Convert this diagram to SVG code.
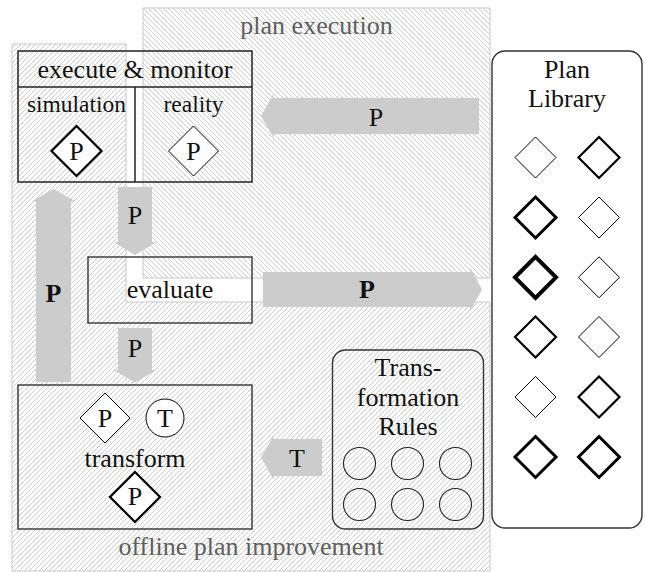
<svg xmlns="http://www.w3.org/2000/svg" width="646" height="572" viewBox="0 0 646 572" font-family="'Liberation Serif', 'Times New Roman', 'DejaVu Serif', serif">
<defs>
<pattern id="hatchNE" patternUnits="userSpaceOnUse" width="5" height="5">
<path d="M-1,1 L1,-1 M0,5 L5,0 M4,6 L6,4" stroke="#c4c4c4" stroke-width="0.8" fill="none"/>
</pattern>
<pattern id="hatchNW" patternUnits="userSpaceOnUse" width="5" height="5">
<path d="M-1,4 L1,6 M0,0 L5,5 M4,-1 L6,1" stroke="#c4c4c4" stroke-width="0.8" fill="none"/>
</pattern>
<style>
text{font-family:'Liberation Serif','Times New Roman','DejaVu Serif',serif}
.t{font-size:26px;fill:#111;text-anchor:middle}
.sm{font-size:23.5px}
.b{font-weight:bold}
.lbl{fill:#5e5e5e}
.box{fill:none;stroke:#222;stroke-width:1.5}
.rbox{fill:none;stroke:#333;stroke-width:1.4}
.arrow{fill:#cccccc;stroke:none}
.edge{stroke:#c8c8c8;stroke-width:1}
.dm{fill:#fff;stroke:#000}
.w1{stroke-width:1}
.w2{stroke-width:2.2}
.w3{stroke-width:3}
.w4{stroke-width:4}
.rule{fill:none;stroke:#222;stroke-width:1.1}
</style>
</defs>

<g id="region-plan-execution">
<polygon points="143,8 490,8 490,278 143,278" fill="url(#hatchNW)" class="edge"/>
<text class="t lbl" x="316.5" y="34">plan execution</text>
</g>
<g id="region-offline">
<polygon points="12,44 126,44 126,302 490,302 490,571 12,571" fill="url(#hatchNE)" class="edge"/>
<text class="t lbl" x="251" y="555">offline plan improvement</text>
</g>

<g id="execute-monitor">
<rect class="box" x="18" y="51" width="234" height="131"/>
<line class="box" x1="18" y1="87" x2="252" y2="87"/>
<line class="box" x1="135" y1="87" x2="135" y2="182"/>
<text class="t" x="135" y="78">execute &amp; monitor</text>
<text class="t sm" x="76.5" y="112">simulation</text>
<text class="t sm" x="193.5" y="112">reality</text>
<polygon class="dm w2" points="76.5,126 101.5,151 76.5,176 51.5,151"/>
<text class="t" x="76.5" y="160">P</text>
<polygon class="dm w1" points="193.5,126 218.5,151 193.5,176 168.5,151"/>
<text class="t" x="193.5" y="160">P</text>
</g>

<g id="evaluate">
<rect class="box" x="88" y="257" width="164" height="66" style="stroke:#333;stroke-width:1.4"/>
<text class="t" x="170" y="298">evaluate</text>
</g>

<g id="transform">
<rect class="box" x="18" y="385" width="234" height="144" style="stroke:#333;stroke-width:1.4"/>
<polygon class="dm w1" points="105,393 130,418 105,443 80,418"/>
<text class="t" x="105" y="427">P</text>
<circle cx="165" cy="418" r="19" fill="#fff" stroke="#000" stroke-width="1"/>
<text class="t" x="165" y="427">T</text>
<text class="t" x="135" y="467">transform</text>
<polygon class="dm w2" points="135,472 160,497 135,522 110,497"/>
<text class="t" x="135" y="505">P</text>
</g>

<g id="transformation-rules">
<rect class="rbox" x="332.5" y="350" width="151" height="179" rx="13" ry="13"/>
<text class="t" x="408" y="376">Trans-</text>
<text class="t" x="408" y="406">formation</text>
<text class="t" x="408" y="435">Rules</text>
<circle class="rule" cx="359.5" cy="463.5" r="16"/>
<circle class="rule" cx="407.5" cy="463.5" r="16"/>
<circle class="rule" cx="455.5" cy="463.5" r="16"/>
<circle class="rule" cx="359.5" cy="504.5" r="16"/>
<circle class="rule" cx="407.5" cy="504.5" r="16"/>
<circle class="rule" cx="455.5" cy="504.5" r="16"/>
</g>

<g id="plan-library">
<rect x="492" y="51" width="150" height="477" rx="13" ry="13" fill="#fff" stroke="#333" stroke-width="1.4"/>
<text class="t" x="567" y="78">Plan</text>
<text class="t" x="567" y="107">Library</text>
<polygon class="dm w1" points="535.5,137 556,157.5 535.5,178 515,157.5"/>
<polygon class="dm w2" points="599,137 619.5,157.5 599,178 578.5,157.5"/>
<polygon class="dm w3" points="535.5,197 556,217.5 535.5,238 515,217.5"/>
<polygon class="dm w1" points="599,197 619.5,217.5 599,238 578.5,217.5"/>
<polygon class="dm w4" points="535.5,256.8 556,277.3 535.5,297.8 515,277.3"/>
<polygon class="dm w1" points="599,256.8 619.5,277.3 599,297.8 578.5,277.3"/>
<polygon class="dm w2" points="535.5,316.5 556,337 535.5,357.5 515,337"/>
<polygon class="dm w1" points="599,316.5 619.5,337 599,357.5 578.5,337"/>
<polygon class="dm w1" points="535.5,376.5 556,397 535.5,417.5 515,397"/>
<polygon class="dm w2" points="599,376.5 619.5,397 599,417.5 578.5,397"/>
<polygon class="dm w3" points="535.5,436.5 556,457 535.5,477.5 515,457"/>
<polygon class="dm w3" points="599,436.5 619.5,457 599,477.5 578.5,457"/>
</g>

<g id="connectors">
<polygon class="arrow" points="479,98 273.5,98 273.5,94 261,116 273.5,138 273.5,134 479,134"/>
<text class="t" x="376" y="126">P</text>
<polygon class="arrow" points="118,187 152,187 152,242 156.5,242 135,255 113.5,242 118,242"/>
<text class="t" x="135" y="224">P</text>
<polygon class="arrow" points="36,382 36,201.5 31.5,201.5 53.5,189 75.5,201.5 71,201.5 71,382"/>
<text class="t b" x="53.5" y="302">P</text>
<polygon class="arrow" points="263,272 470,272 470,267.5 482,289.5 470,311.5 470,307 263,307"/>
<text class="t b" x="367" y="298">P</text>
<polygon class="arrow" points="118,328 152,328 152,370 156.5,370 135,382.5 113.5,370 118,370"/>
<text class="t" x="135" y="357">P</text>
<polygon class="arrow" points="322,439 273.5,439 273.5,435.5 261,457.5 273.5,479.5 273.5,476 322,476"/>
<text class="t" x="297" y="467">T</text>
</g>
</svg>
